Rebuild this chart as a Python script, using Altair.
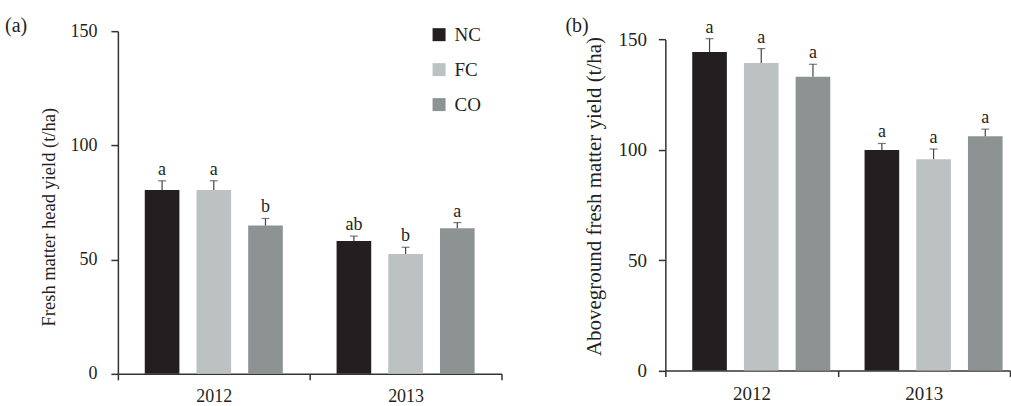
import altair as alt
import pandas as pd

years = ["2012", "2013"]
treatments = ["NC", "FC", "CO"]
colors = ["#231f20", "#bcc2c2", "#8d9393"]

head_yield = [80.5, 80.5, 64.9, 58.2, 52.5, 63.7]
head_err = [4.0, 4.0, 3.1, 2.1, 2.9, 2.5]
head_letters = ["a", "a", "b", "ab", "b", "a"]

above_yield = [144.4, 139.4, 133.1, 99.9, 95.8, 106.2]
above_err = [6.0, 6.5, 5.7, 3.0, 4.6, 3.2]
above_letters = ["a", "a", "a", "a", "a", "a"]

y_ticks = [0, 50, 100, 150]

FONT = "Liberation Serif"
AXC = "#333333"
TXT = "#231f20"


def frame(vals, errs, letters):
    rows = []
    i = 0
    for yr in years:
        for t in treatments:
            rows.append({"year": yr, "treatment": t, "value": vals[i],
                         "upper": vals[i] + errs[i], "letter": letters[i]})
            i += 1
    return pd.DataFrame(rows)


def panel(df, label, title, w, h, yrange, title_y, title_size, lab_size,
          lab_pad, title_pad, legend, lab_x, lab_y, pad_outer):
    base = alt.Chart(df)
    x = alt.X("year:N", sort=years,
              scale=alt.Scale(paddingInner=0, paddingOuter=0),
              axis=alt.Axis(title=None, labelAngle=0, tickBand="extent",
                            labelPadding=8, tickSize=6, labelFontSize=lab_size))
    xo = alt.XOffset("treatment:N", sort=treatments,
                     scale=alt.Scale(paddingInner=0.33, paddingOuter=pad_outer))
    y = alt.Y("value:Q", scale=alt.Scale(domain=[0, 150], nice=False, range=yrange),
              axis=alt.Axis(values=y_ticks, title=title, tickSize=7,
                            labelPadding=lab_pad, titlePadding=title_pad,
                            titleY=title_y, titleFontSize=title_size,
                            labelFontSize=lab_size))
    color = alt.Color("treatment:N", sort=treatments,
                      scale=alt.Scale(domain=treatments, range=colors),
                      legend=legend)
    bars = base.mark_bar().encode(x=x, xOffset=xo, y=y, color=color)
    err = base.mark_rule(color="#444444", strokeWidth=1.2).encode(
        x=x, xOffset=xo, y="value:Q", y2="upper:Q")
    cap = base.mark_tick(color="#444444", thickness=1.2, size=8).encode(
        x=x, xOffset=xo, y="upper:Q")
    txt = base.mark_text(font=FONT, fontSize=18, baseline="alphabetic", dy=-6,
                         color=TXT).encode(x=x, xOffset=xo, y="upper:Q",
                                           text="letter:N")
    lab = alt.Chart(pd.DataFrame({"label": [label]})).mark_text(
        font=FONT, fontSize=20, align="left", baseline="middle", color=TXT
    ).encode(x=alt.value(lab_x), y=alt.value(lab_y), text="label:N")
    return alt.layer(bars, err, cap, txt, lab).properties(width=w, height=h)


legend_a = alt.Legend(title=None, orient="none", legendX=312, legendY=-6,
                      symbolType="square", symbolSize=169, symbolStrokeWidth=0,
                      labelFont=FONT, labelFontSize=19, labelOffset=6,
                      rowPadding=15, padding=0, labelColor=TXT)

pa = panel(frame(head_yield, head_err, head_letters), "(a)",
           "Fresh matter head yield (t/ha)", 384, 343, [343, 0], 185.7,
           18.5, 18, 14, 11, legend_a, -113, -5.3, 0.52)
pb = panel(frame(above_yield, above_err, above_letters), "(b)",
           "Aboveground fresh matter yield (t/ha)", 345, 339.7, [339.7, 8.4],
           165, 21, 19, 12, 13, None, -100, -5.3, 0.46)

chart = alt.hconcat(pa, pb, spacing=63).resolve_scale(
    color="independent", y="independent", x="independent"
).properties(
    padding={"left": 5, "top": 15, "right": 0, "bottom": 0}
).configure_view(stroke=None).configure_axis(
    grid=False, domainColor=AXC, tickColor=AXC, domainWidth=1.5, tickWidth=1.5,
    labelFont=FONT, labelFontSize=18, labelColor=TXT,
    titleFont=FONT, titleFontSize=18, titleFontWeight="normal", titleColor=TXT
)

chart.save("out.html", embed_options={"renderer": "svg", "actions": False})
